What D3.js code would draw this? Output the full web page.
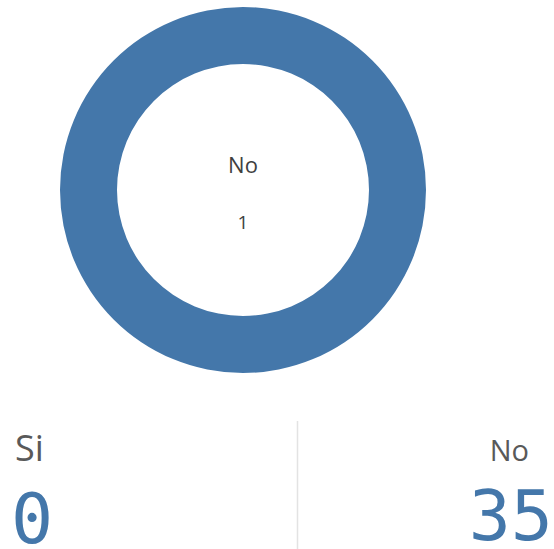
<!DOCTYPE html>
<html>
<head>
<meta charset="utf-8">
<script src="https://cdn.jsdelivr.net/npm/d3@7"></script>
<style>
  body { margin: 0; background: #fff; }
  svg { display: block; }
</style>
</head>
<body>
<div id="chart"></div>
<script>
// Data
const categories = ["Si", "No"];
const counts = [0, 35];
const centerLabels = ["No"];
const centerValues = [1];

const W = 554, H = 549;
const blue = "#4477aa";
const grey = "#595959";

const svg = d3.select("#chart").append("svg")
    .attr("width", W)
    .attr("height", H);

// Donut
const pieData = d3.pie().sort(null)(counts);
const arc = d3.arc().innerRadius(126).outerRadius(183);
const color = d3.scaleOrdinal().domain(categories).range(["#9bb8d6", blue]);

const donut = svg.append("g")
    .attr("transform", "translate(243,190)");

donut.selectAll("path")
    .data(pieData)
    .enter()
    .append("path")
    .attr("d", arc)
    .attr("fill", (d, i) => color(categories[i]));

donut.append("text")
    .attr("y", -17)
    .attr("text-anchor", "middle")
    .style("font-family", "'Open Sans', sans-serif")
    .style("font-size", "22px")
    .attr("fill", "#404040")
    .text(centerLabels[0]);

donut.append("text")
    .attr("y", 39)
    .attr("text-anchor", "middle")
    .style("font-family", "'Open Sans', sans-serif")
    .style("font-size", "19px")
    .attr("fill", "#404040")
    .text(centerValues[0]);

// KPI row
const kpiX = [14, 548];
const anchors = ["start", "end"];
const labelSize = [36, 29];

svg.append("line")
    .attr("x1", 297.5).attr("x2", 297.5)
    .attr("y1", 421).attr("y2", H)
    .attr("stroke", "#e3e3e3")
    .attr("stroke-width", 1.5);

const kpi = svg.selectAll(".kpi")
    .data(categories)
    .enter()
    .append("g")
    .attr("class", "kpi");

kpi.append("text")
    .attr("x", (d, i) => kpiX[i] + (i === 0 ? 1 : -19))
    .attr("y", 461)
    .attr("text-anchor", (d, i) => anchors[i])
    .style("font-family", "'Open Sans', sans-serif")
    .style("font-size", (d, i) => labelSize[i] + "px")
    .attr("fill", grey)
    .text(d => d);

kpi.append("text")
    .attr("x", (d, i) => kpiX[i] + (i === 0 ? -3 : 5))
    .attr("y", (d, i) => i === 0 ? 543 : 540)
    .attr("text-anchor", (d, i) => anchors[i])
    .style("font-family", "'DejaVu Sans Mono', monospace")
    .style("font-size", "70px")
    .attr("fill", blue)
    .text((d, i) => counts[i]);
</script>
</body>
</html>
